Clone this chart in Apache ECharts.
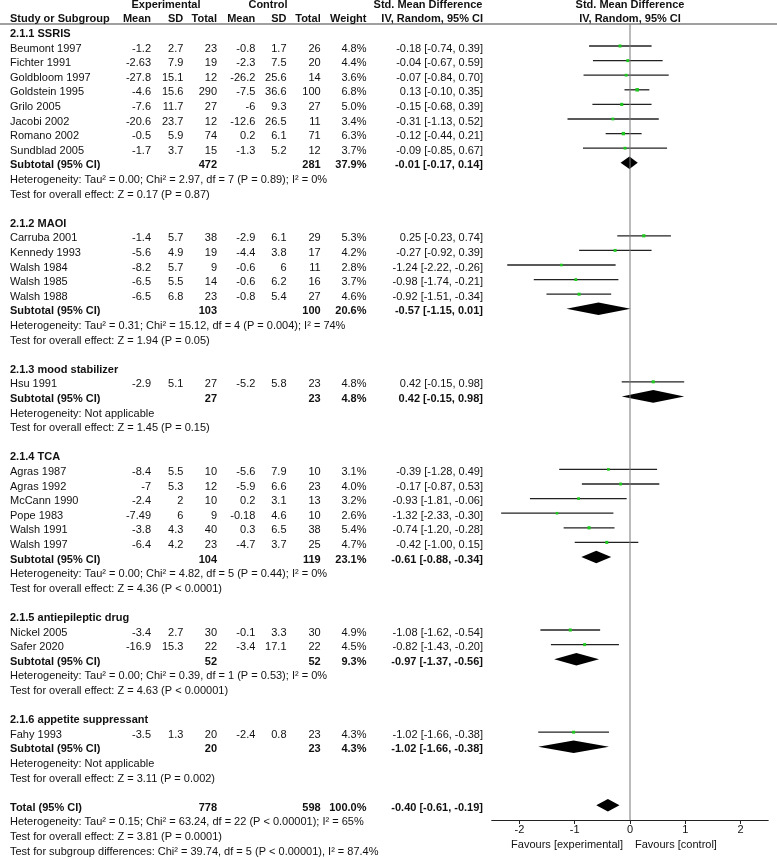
<!DOCTYPE html>
<html><head><meta charset="utf-8">
<script src="https://cdn.jsdelivr.net/npm/echarts@6/dist/echarts.min.js"></script>
<style>html,body{margin:0;padding:0;background:#fff}#c{width:777px;height:857px}</style>
</head><body><div id="c"></div>
<script>
// ---------- data ----------
const groupTitles = ['2.1.1 SSRIS', '2.1.2 MAOI', '2.1.3 mood stabilizer', '2.1.4 TCA', '2.1.5 antiepileptic drug', '2.1.6 appetite suppressant'];
const groupSizes = [8, 5, 1, 6, 2, 1];
const studyNames = ['Beumont 1997','Fichter 1991','Goldbloom 1997','Goldstein 1995','Grilo 2005','Jacobi 2002','Romano 2002','Sundblad 2005',
  'Carruba 2001','Kennedy 1993','Walsh 1984','Walsh 1985','Walsh 1988',
  'Hsu 1991',
  'Agras 1987','Agras 1992','McCann 1990','Pope 1983','Walsh 1991','Walsh 1997',
  'Nickel 2005','Safer 2020',
  'Fahy 1993'];
const expMean = [-1.2,-2.63,-27.8,-4.6,-7.6,-20.6,-0.5,-1.7, -1.4,-5.6,-8.2,-6.5,-6.5, -2.9, -8.4,-7,-2.4,-7.49,-3.8,-6.4, -3.4,-16.9, -3.5];
const expSD   = [2.7,7.9,15.1,15.6,11.7,23.7,5.9,3.7, 5.7,4.9,5.7,5.5,6.8, 5.1, 5.5,5.3,2,6,4.3,4.2, 2.7,15.3, 1.3];
const expN    = [23,19,12,290,27,12,74,15, 38,19,9,14,23, 27, 10,12,10,9,40,23, 30,22, 20];
const ctlMean = [-0.8,-2.3,-26.2,-7.5,-6,-12.6,0.2,-1.3, -2.9,-4.4,-0.6,-0.6,-0.8, -5.2, -5.6,-5.9,0.2,-0.18,0.3,-4.7, -0.1,-3.4, -2.4];
const ctlSD   = [1.7,7.5,25.6,36.6,9.3,26.5,6.1,5.2, 6.1,3.8,6,6.2,5.4, 5.8, 7.9,6.6,3.1,4.6,6.5,3.7, 3.3,17.1, 0.8];
const ctlN    = [26,20,14,100,27,11,71,12, 29,17,11,16,27, 23, 10,23,13,10,38,25, 30,22, 23];
const weight  = [4.8,4.4,3.6,6.8,5.0,3.4,6.3,3.7, 5.3,4.2,2.8,3.7,4.6, 4.8, 3.1,4.0,3.2,2.6,5.4,4.7, 4.9,4.5, 4.3];
const smd     = [-0.18,-0.04,-0.07,0.13,-0.15,-0.31,-0.12,-0.09, 0.25,-0.27,-1.24,-0.98,-0.92, 0.42, -0.39,-0.17,-0.93,-1.32,-0.74,-0.42, -1.08,-0.82, -1.02];
const ciLow   = [-0.74,-0.67,-0.84,-0.10,-0.68,-1.13,-0.44,-0.85, -0.23,-0.92,-2.22,-1.74,-1.51, -0.15, -1.28,-0.87,-1.81,-2.33,-1.20,-1.00, -1.62,-1.43, -1.66];
const ciHigh  = [0.39,0.59,0.70,0.35,0.39,0.52,0.21,0.67, 0.74,0.39,-0.26,-0.21,-0.34, 0.98, 0.49,0.53,-0.06,-0.30,-0.28,0.15, -0.54,-0.20, -0.38];

const subExpN   = [472, 103, 27, 104, 52, 20];
const subCtlN   = [281, 100, 23, 119, 52, 23];
const subWeight = [37.9, 20.6, 4.8, 23.1, 9.3, 4.3];
const subSmd    = [-0.01, -0.57, 0.42, -0.61, -0.97, -1.02];
const subLow    = [-0.17, -1.15, -0.15, -0.88, -1.37, -1.66];
const subHigh   = [0.14, 0.01, 0.98, -0.34, -0.56, -0.38];
const hetText = [
  'Heterogeneity: Tau\u00b2 = 0.00; Chi\u00b2 = 2.97, df = 7 (P = 0.89); I\u00b2 = 0%',
  'Heterogeneity: Tau\u00b2 = 0.31; Chi\u00b2 = 15.12, df = 4 (P = 0.004); I\u00b2 = 74%',
  'Heterogeneity: Not applicable',
  'Heterogeneity: Tau\u00b2 = 0.00; Chi\u00b2 = 4.82, df = 5 (P = 0.44); I\u00b2 = 0%',
  'Heterogeneity: Tau\u00b2 = 0.00; Chi\u00b2 = 0.39, df = 1 (P = 0.53); I\u00b2 = 0%',
  'Heterogeneity: Not applicable'];
const testText = [
  'Test for overall effect: Z = 0.17 (P = 0.87)',
  'Test for overall effect: Z = 1.94 (P = 0.05)',
  'Test for overall effect: Z = 1.45 (P = 0.15)',
  'Test for overall effect: Z = 4.36 (P < 0.0001)',
  'Test for overall effect: Z = 4.63 (P < 0.00001)',
  'Test for overall effect: Z = 3.11 (P = 0.002)'];

const totalExpN = 778, totalCtlN = 598, totalWeight = 100.0;
const totalSmd = -0.40, totalLow = -0.61, totalHigh = -0.19;
const totalTexts = [
  'Heterogeneity: Tau\u00b2 = 0.15; Chi\u00b2 = 63.24, df = 22 (P < 0.00001); I\u00b2 = 65%',
  'Test for overall effect: Z = 3.81 (P = 0.0001)',
  'Test for subgroup differences: Chi\u00b2 = 39.74, df = 5 (P < 0.00001), I\u00b2 = 87.4%'];

const tickValues = [-2, -1, 0, 1, 2];
const tickLabels = ['-2', '-1', '0', '1', '2'];
const favourLabels = ['Favours [experimental]', 'Favours [control]'];

// ---------- layout ----------
const ROW0 = 46, DY = 14.6, TXT_DY = 2.5;
const yOf = px => (px - ROW0) / DY;
const FONT = '11px "Liberation Sans", Arial, sans-serif';
const BFONT = 'bold ' + FONT;
const COL = {name: 10, eMean: 151, eSD: 183.3, eN: 217, cMean: 255.3, cSD: 286.5, cN: 320.7, w: 366.5, ci: 483};

const f2 = v => v.toFixed(2);
const ciStr = (m, l, h) => f2(m) + ' [' + f2(l) + ', ' + f2(h) + ']';

// rows
const rows = [];
rows.push({t: 'hdr1', r: yOf(5 - TXT_DY)});
rows.push({t: 'hdr2', r: yOf(19 - TXT_DY)});
let r = -1, s = 0;
groupTitles.forEach((g, gi) => {
  rows.push({t: 'head', r: r++, g: gi});
  for (let k = 0; k < groupSizes[gi]; k++) rows.push({t: 'study', r: r++, i: s++});
  rows.push({t: 'sub', r: r++, g: gi});
  rows.push({t: 'text', r: r++, text: hetText[gi]});
  rows.push({t: 'text', r: r++, text: testText[gi]});
  r++;
});
rows.push({t: 'total', r: r++});
totalTexts.forEach(tx => rows.push({t: 'text', r: r++, text: tx}));

function txt(api, x, rr, str, align, bold) {
  const p = api.coord([x, rr]);
  return {type: 'text', x: p[0], y: p[1] + TXT_DY,
    style: {text: str, align: align, verticalAlign: 'middle', font: bold ? BFONT : FONT, fill: '#111'}};
}

function renderTable(params, api) {
  const o = rows[params.dataIndex];
  const ch = [];
  if (o.t === 'hdr1') {
    ch.push(txt(api, 166, o.r, 'Experimental', 'center', true));
    ch.push(txt(api, 268, o.r, 'Control', 'center', true));
    ch.push(txt(api, 428, o.r, 'Std. Mean Difference', 'center', true));
    ch.push(txt(api, 630, o.r, 'Std. Mean Difference', 'center', true));
  } else if (o.t === 'hdr2') {
    ch.push(txt(api, COL.name, o.r, 'Study or Subgroup', 'left', true));
    ch.push(txt(api, COL.eMean, o.r, 'Mean', 'right', true));
    ch.push(txt(api, COL.eSD, o.r, 'SD', 'right', true));
    ch.push(txt(api, COL.eN, o.r, 'Total', 'right', true));
    ch.push(txt(api, COL.cMean, o.r, 'Mean', 'right', true));
    ch.push(txt(api, COL.cSD, o.r, 'SD', 'right', true));
    ch.push(txt(api, COL.cN, o.r, 'Total', 'right', true));
    ch.push(txt(api, COL.w, o.r, 'Weight', 'right', true));
    ch.push(txt(api, COL.ci, o.r, 'IV, Random, 95% CI', 'right', true));
    ch.push(txt(api, 630, o.r, 'IV, Random, 95% CI', 'center', true));
  } else if (o.t === 'head') {
    ch.push(txt(api, COL.name, o.r, groupTitles[o.g], 'left', true));
  } else if (o.t === 'study') {
    const i = o.i;
    ch.push(txt(api, COL.name, o.r, studyNames[i], 'left'));
    ch.push(txt(api, COL.eMean, o.r, String(expMean[i]), 'right'));
    ch.push(txt(api, COL.eSD, o.r, String(expSD[i]), 'right'));
    ch.push(txt(api, COL.eN, o.r, String(expN[i]), 'right'));
    ch.push(txt(api, COL.cMean, o.r, String(ctlMean[i]), 'right'));
    ch.push(txt(api, COL.cSD, o.r, String(ctlSD[i]), 'right'));
    ch.push(txt(api, COL.cN, o.r, String(ctlN[i]), 'right'));
    ch.push(txt(api, COL.w, o.r, weight[i].toFixed(1) + '%', 'right'));
    ch.push(txt(api, COL.ci, o.r, ciStr(smd[i], ciLow[i], ciHigh[i]), 'right'));
  } else if (o.t === 'sub') {
    const g = o.g;
    ch.push(txt(api, COL.name, o.r, 'Subtotal (95% CI)', 'left', true));
    ch.push(txt(api, COL.eN, o.r, String(subExpN[g]), 'right', true));
    ch.push(txt(api, COL.cN, o.r, String(subCtlN[g]), 'right', true));
    ch.push(txt(api, COL.w, o.r, subWeight[g].toFixed(1) + '%', 'right', true));
    ch.push(txt(api, COL.ci, o.r, ciStr(subSmd[g], subLow[g], subHigh[g]), 'right', true));
  } else if (o.t === 'total') {
    ch.push(txt(api, COL.name, o.r, 'Total (95% CI)', 'left', true));
    ch.push(txt(api, COL.eN, o.r, String(totalExpN), 'right', true));
    ch.push(txt(api, COL.cN, o.r, String(totalCtlN), 'right', true));
    ch.push(txt(api, COL.w, o.r, totalWeight.toFixed(1) + '%', 'right', true));
    ch.push(txt(api, COL.ci, o.r, ciStr(totalSmd, totalLow, totalHigh), 'right', true));
  } else if (o.t === 'text') {
    ch.push(txt(api, COL.name, o.r, o.text, 'left'));
  }
  return {type: 'group', children: ch};
}

// forest rows
const fRows = [];
rows.forEach(o => {
  if (o.t === 'study') fRows.push({t: 'study', r: o.r, m: smd[o.i], lo: ciLow[o.i], hi: ciHigh[o.i], w: weight[o.i]});
  else if (o.t === 'sub') fRows.push({t: 'dia', r: o.r, m: subSmd[o.g], lo: subLow[o.g], hi: subHigh[o.g]});
  else if (o.t === 'total') fRows.push({t: 'dia', r: o.r, m: totalSmd, lo: totalLow, hi: totalHigh});
});
fRows.push({t: 'fav', r: yOf(845 - TXT_DY), m: 0});

function renderForest(params, api) {
  const o = fRows[params.dataIndex];
  if (o.t === 'fav') {
    const p = api.coord([0, o.r]);
    return {type: 'group', children: [
      {type: 'text', x: p[0] - 7, y: p[1] + TXT_DY, style: {text: favourLabels[0], align: 'right', verticalAlign: 'middle', font: FONT, fill: '#111'}},
      {type: 'text', x: p[0] + 5, y: p[1] + TXT_DY, style: {text: favourLabels[1], align: 'left', verticalAlign: 'middle', font: FONT, fill: '#111'}}
    ]};
  }
  const c = api.coord([o.m, o.r]), a = api.coord([o.lo, o.r]), b = api.coord([o.hi, o.r]);
  if (o.t === 'study') {
    const sz = 2 + o.w * 0.22;
    return {type: 'group', children: [
      {type: 'line', shape: {x1: a[0], y1: a[1], x2: b[0], y2: b[1]}, style: {stroke: '#222', lineWidth: 1.3}},
      {type: 'rect', shape: {x: c[0] - sz / 2, y: c[1] - sz / 2, width: sz, height: sz}, style: {fill: '#1ec81e'}}
    ]};
  }
  const h = 6.3;
  return {type: 'polygon', shape: {points: [[a[0], c[1]], [c[0], c[1] - h], [b[0], c[1]], [c[0], c[1] + h]]}, style: {fill: '#000'}};
}

// ---------- chart ----------
const chart = echarts.init(document.getElementById('c'), null, {renderer: 'canvas'});
const PX = 55.3;
chart.setOption({
  animation: false,
  backgroundColor: '#fff',
  grid: [
    {left: 0, right: 0, top: 24, bottom: 0},
    {left: 630 - 2.5 * PX, right: 777 - (630 + 2.5 * PX), top: 24, bottom: 37}
  ],
  xAxis: [
    {gridIndex: 0, type: 'value', min: 0, max: 777, position: 'top',
      axisLine: {show: true, onZero: false, lineStyle: {color: '#808080', width: 1.6}},
      axisTick: {show: false}, axisLabel: {show: false}, splitLine: {show: false}},
    {gridIndex: 1, type: 'value', min: -2.5, max: 2.5, position: 'bottom',
      axisLine: {show: true, onZero: false, lineStyle: {color: '#222', width: 1}},
      axisTick: {show: true, length: 4, customValues: tickValues, lineStyle: {color: '#222'}},
      axisLabel: {show: true, customValues: tickValues, margin: 4, fontSize: 11, color: '#111',
        fontFamily: '"Liberation Sans", Arial, sans-serif',
        formatter: v => tickLabels[tickValues.indexOf(Math.round(v))] ?? ''},
      splitLine: {show: false}}
  ],
  yAxis: [
    {gridIndex: 0, type: 'value', inverse: true, min: yOf(24), max: yOf(857), show: false},
    {gridIndex: 1, type: 'value', inverse: true, min: yOf(24), max: yOf(820), show: false}
  ],
  series: [
    {type: 'custom', xAxisIndex: 0, yAxisIndex: 0, clip: false, silent: true,
      data: rows.map(o => [0, o.r]), encode: {x: 0, y: 1}, renderItem: renderTable},
    {type: 'line', xAxisIndex: 1, yAxisIndex: 1, silent: true, symbol: 'none',
      data: [[0, yOf(24)], [0, yOf(820)]], lineStyle: {color: '#777', width: 1}},
    {type: 'custom', xAxisIndex: 1, yAxisIndex: 1, clip: false, silent: true, z: 3,
      data: fRows.map(o => [o.m, o.r]), encode: {x: 0, y: 1}, renderItem: renderForest}
  ]
});
</script>
</body></html>
